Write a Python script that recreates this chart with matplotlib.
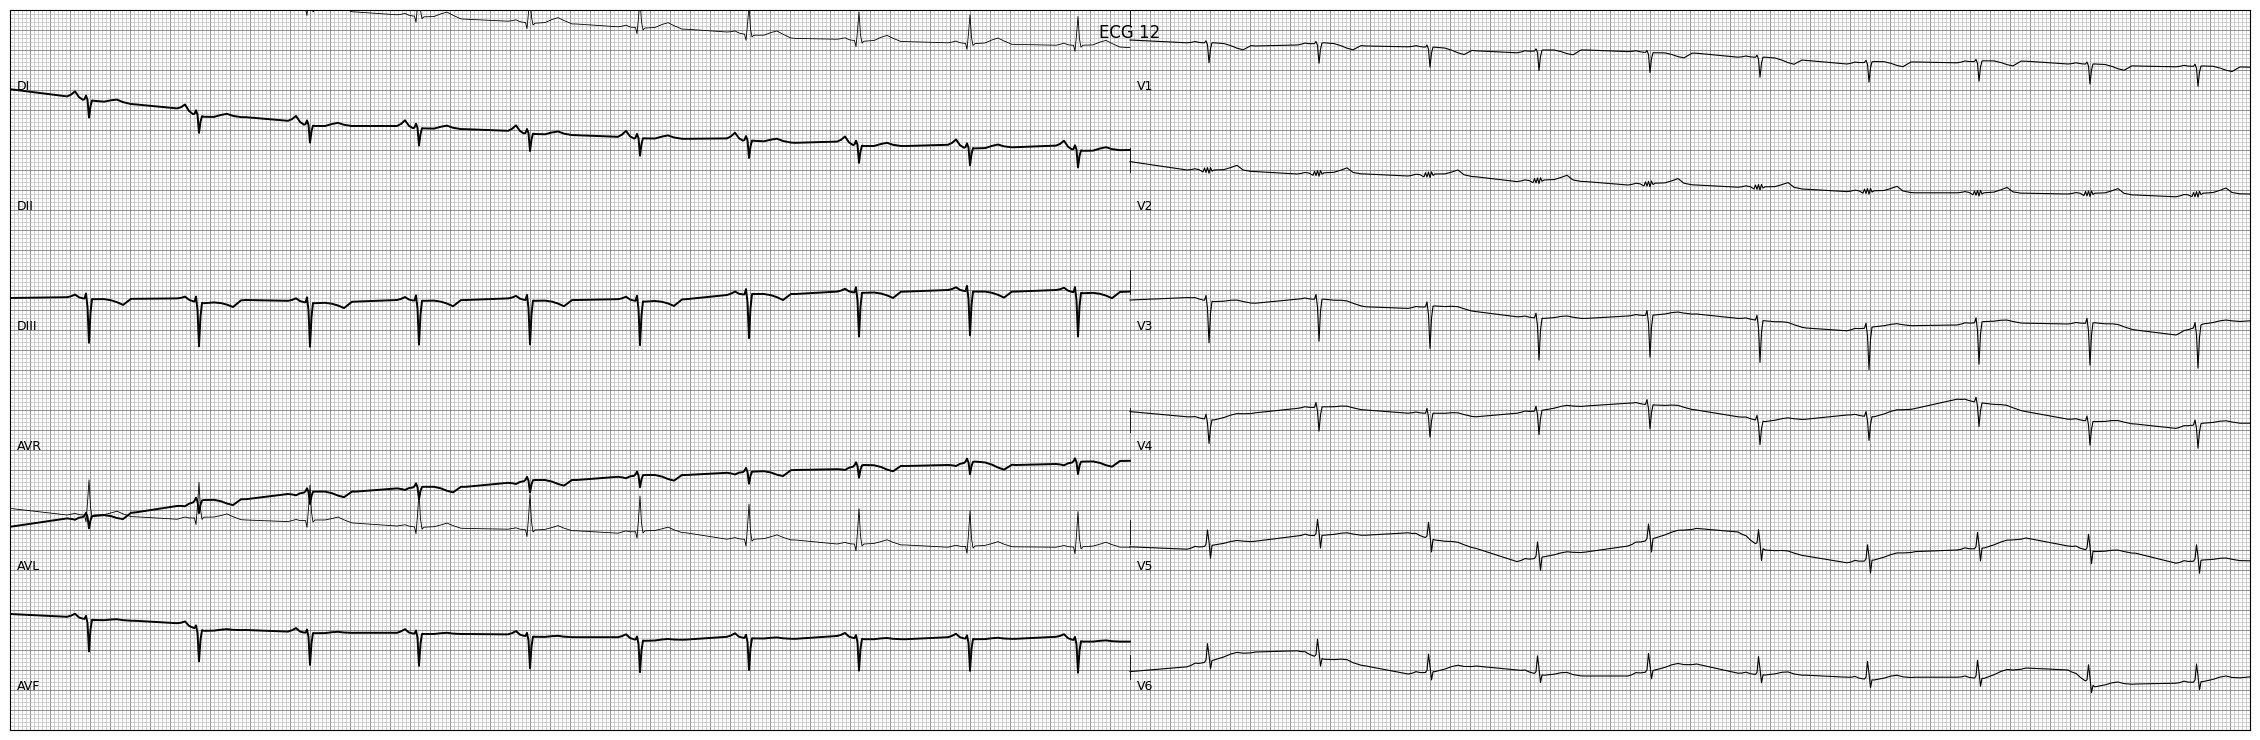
import numpy as np
import matplotlib
matplotlib.use('Agg')
import matplotlib.pyplot as plt
from matplotlib.ticker import AutoMinorLocator

TITLE = 'ECG 12'
LEAD_NAMES = ['DI', 'DII', 'DIII', 'AVR', 'AVL', 'AVF',
              'V1', 'V2', 'V3', 'V4', 'V5', 'V6']
SECS = 11.2

# QRS times (s) shared by all leads
BEAT_T = [0.79, 1.89, 3.00, 4.09, 5.20, 6.30, 7.39, 8.49, 9.60, 10.68]

# beat shape sample offsets (s, relative to QRS time)
SHAPE_T = [-0.22, -0.18, -0.14, -0.10, -0.06, -0.045, -0.03, -0.015, 0.0,
           0.015, 0.03, 0.05, 0.15, 0.22, 0.28, 0.34, 0.42]

# baseline levels (mV): start, then per beat (pre, post, mid-to-next), end
DI_BASE = [-0.48, -0.66, -0.77, -0.86, -0.96, -1.17, -1.18, -1.27, -1.40, -1.40,
           -1.40, -1.46, -1.48, -1.52, -1.60, -1.63, -1.67, -1.71, -1.72, -1.71,
           -1.77, -1.82, -1.79, -1.90, -1.90, -1.87, -1.96, -1.93, -1.89, -2.02, -2.00]
DII_BASE = [4.9, 4.85, 4.8, 4.78, 4.72, 4.7, 4.62, 4.55, 4.5, 4.45,
            4.38, 4.33, 4.27, 4.22, 4.17, 4.15, 4.08, 4.05, 4.02, 3.95,
            3.87, 3.79, 3.77, 3.72, 3.71, 3.68, 3.66, 3.64, 3.62, 3.62, 3.56]
DIII_BASE = [0.3, 0.32, 0.27, 0.28, 0.29, 0.17, 0.25, 0.23, 0.17, 0.21,
             0.25, 0.23, 0.25, 0.29, 0.23, 0.25, 0.27, 0.21, 0.27, 0.375,
             0.40, 0.40, 0.46, 0.43, 0.46, 0.50, 0.46, 0.46, 0.50, 0.42, 0.46]
AVR_BASE = [-2.42, -2.21, -2.15, -2.06, -1.9, -1.75, -1.73, -1.6, -1.54, -1.54,
            -1.46, -1.42, -1.42, -1.32, -1.25, -1.25, -1.17, -1.125, -1.125, -1.07,
            -1.04, -1.0, -0.98, -0.875, -0.9, -0.875, -0.79, -0.875, -0.85, -0.79, -0.77]
AVL_BASE = [1.04, 0.875, 0.875, 0.83, 0.77, 0.82, 0.75, 0.71, 0.75, 0.67,
            0.6, 0.57, 0.54, 0.52, 0.5, 0.48, 0.42, 0.48, 0.43, 0.27,
            0.27, 0.25, 0.15, 0.15, 0.125, 0.07, 0.1, 0.08, 0.07, 0.08, 0.07]
AVF_BASE = [1.4, 1.33, 1.25, 1.23, 1.17, 0.98, 1.0, 0.96, 0.92, 0.93,
            0.93, 0.9, 0.9, 0.89, 0.83, 0.82, 0.82, 0.73, 0.76, 0.83,
            0.79, 0.78, 0.85, 0.77, 0.77, 0.82, 0.77, 0.78, 0.83, 0.71, 0.71]
V1_BASE = [0.75, 0.68, 0.68, 0.6, 0.625, 0.68, 0.6, 0.58, 0.57, 0.48,
           0.43, 0.5, 0.5, 0.46, 0.43, 0.42, 0.32, 0.32, 0.24, 0.15,
           0.21, 0.2, 0.18, 0.23, 0.22, 0.15, 0.15, 0.1, 0.08, 0.1, 0.07]
V2_BASE = [0.71, 0.5, 0.5, 0.46, 0.4, 0.43, 0.4, 0.35, 0.4, 0.33,
           0.21, 0.25, 0.21, 0.125, 0.17, 0.125, 0.07, 0.08, 0.02, -0.04,
           -0.02, -0.07, -0.07, -0.07, -0.08, -0.1, -0.08, -0.125, -0.17, -0.08, -0.1]
V3_BASE = [0.25, 0.31, 0.21, 0.17, 0.27, 0.27, 0.08, 0.04, 0.1, -0.04,
           -0.17, -0.21, -0.21, -0.15, -0.125, -0.1, -0.21, -0.27, -0.45, -0.52,
           -0.42, -0.39, -0.375, -0.29, -0.33, -0.35, -0.32, -0.5, -0.625, -0.35, -0.27]
V4_BASE = [0.46, 0.33, 0.25, 0.43, 0.54, 0.58, 0.5, 0.42, 0.42, 0.33,
           0.42, 0.5, 0.6, 0.67, 0.625, 0.5, 0.33, 0.21, 0.27, 0.375,
           0.33, 0.54, 0.77, 0.67, 0.46, 0.27, 0.21, 0.15, 0.04, 0.17, 0.17]
V5_BASE = [0.08, 0.02, 0.125, 0.22, 0.35, 0.37, 0.37, 0.43, 0.25, 0.04,
           -0.29, -0.17, -0.05, 0.1, 0.3, 0.54, 0.45, 0.0, -0.15, -0.32,
           -0.25, -0.04, 0.0, 0.05, 0.3, 0.1, -0.04, -0.08, -0.33, -0.25, -0.27]
V6_BASE = [-0.04, 0.08, 0.25, 0.45, 0.48, 0.27, 0.1, -0.1, -0.04, 0.1,
           0.0, -0.13, -0.15, -0.15, 0.0, 0.15, -0.08, -0.125, -0.13, -0.18,
           -0.25, -0.18, -0.18, -0.21, 0.05, 0.0, -0.42, -0.35, -0.33, -0.29, -0.17]

# beat shapes (mV above baseline) at SHAPE_T offsets
DI_SHAPE = [0, 0.06, 0.16, 0.03, -0.02, 0.0, 0.10, 0.0, -0.44, -0.15, 0.0, 0, 0, 0.05, 0.08, 0.03, 0]
DII_SHAPE = [0, 0.02, 0.05, 0.01, 0, 0, -0.15, 0.25, 0.72, 0.15, -0.05, 0, 0.02, 0.1, 0.15, 0.08, 0]
DIII_SHAPE = [0, 0.03, 0.08, 0.02, 0, 0, 0.13, -0.2, -1.1, -0.35, 0.0, 0, 0, -0.03, -0.08, -0.15, 0]
AVR_SHAPE = [0, -0.02, -0.05, -0.01, 0, 0.03, 0.1, 0.0, -0.3, -0.1, 0.0, 0, 0, -0.04, -0.1, -0.14, 0]
AVL_SHAPE = [0, 0.02, 0.04, 0.01, 0, 0, -0.17, 0.3, 0.88, 0.2, -0.05, 0, 0.02, 0.07, 0.12, 0.06, 0]
AVF_SHAPE = [0, 0.04, 0.1, 0.02, 0, 0, 0.08, -0.1, -0.8, -0.25, 0, 0, 0, 0.02, 0.03, 0.01, 0]
V1_SHAPE = [0, 0.01, 0.03, 0.01, 0, 0, 0.05, -0.05, -0.5, -0.15, 0, 0, 0, -0.04, -0.09, -0.12, 0]
V2_SHAPE = [0, 0.01, 0.03, 0.01, -0.05, 0.05, -0.06, 0.06, -0.08, 0.06, -0.03, 0, 0.02, 0.08, 0.14, 0.03, 0]
V3_SHAPE = [0, 0.01, 0.03, 0.01, 0, 0, 0.12, -0.2, -1.05, -0.3, 0, 0, 0.02, 0.05, 0.06, 0.03, 0]
V4_SHAPE = [0, 0.01, 0.03, 0.01, 0, 0, 0.12, -0.1, -0.6, -0.2, 0, 0, 0.02, 0.05, 0.06, 0.03, 0]
V5_SHAPE = [0, 0.01, 0.04, 0.01, 0, 0, 0.05, 0.4, 0.1, -0.32, 0.0, 0, 0.02, 0.05, 0.06, 0.03, 0]
V6_SHAPE = [0, 0.01, 0.04, 0.01, 0, 0, 0.05, 0.45, 0.15, -0.2, 0.0, 0, 0.03, 0.07, 0.08, 0.03, 0]

BASES = [DI_BASE, DII_BASE, DIII_BASE, AVR_BASE, AVL_BASE, AVF_BASE,
         V1_BASE, V2_BASE, V3_BASE, V4_BASE, V5_BASE, V6_BASE]
SHAPES = [DI_SHAPE, DII_SHAPE, DIII_SHAPE, AVR_SHAPE, AVL_SHAPE, AVF_SHAPE,
          V1_SHAPE, V2_SHAPE, V3_SHAPE, V4_SHAPE, V5_SHAPE, V6_SHAPE]
LINE_W = [1.4, 0.6, 1.4, 1.4, 0.6, 1.4, 0.8, 0.8, 0.8, 0.8, 0.8, 0.8]


def knot_times():
    ts = [0.0]
    for i, tb in enumerate(BEAT_T):
        ts += [tb - 0.22, tb + 0.05]
        if i < len(BEAT_T) - 1:
            ts.append(((tb + 0.05) + (BEAT_T[i + 1] - 0.22)) / 2)
    ts.append(SECS)
    return np.array(ts)


def build_trace(base, shape):
    kt = knot_times()
    kv = np.array(base, dtype=float)
    pts = dict(zip(np.round(kt, 4), kv))
    st = np.array(SHAPE_T)
    sv = np.array(shape, dtype=float)
    for tb in BEAT_T:
        tt = tb + st
        vv = np.interp(tt, kt, kv) + sv
        for a, b in zip(np.round(tt, 4), vv):
            pts[a] = b
    t = np.array(sorted(pts))
    v = np.array([pts[k] for k in t])
    return t, v


traces = [build_trace(b, s) for b, s in zip(BASES, SHAPES)]

columns = 2
rows = 6
row_height = 6
fig = plt.figure(figsize=(22.6, 7.4), dpi=100)
ax = fig.add_axes([10 / 2260, 10 / 740, 2240 / 2260, 720 / 740])
fig.text(0.5, 1 - 24.4 / 740, TITLE, ha='center', va='top', fontsize=12)

x_min, x_max = 0, columns * SECS
y_min = row_height / 4 - (rows / 2) * row_height
y_max = row_height / 4

color_major = (0.4, 0.4, 0.4)
color_minor = (0.75, 0.75, 0.75)
color_line = (0, 0, 0)

ax.set_xticks(np.arange(x_min, x_max, 0.2))
ax.set_yticks(np.arange(y_min, y_max, 0.5))
ax.minorticks_on()
ax.xaxis.set_minor_locator(AutoMinorLocator(5))
ax.grid(which='major', linestyle='-', linewidth=0.5, color=color_major)
ax.grid(which='minor', linestyle='-', linewidth=0.5, color=color_minor)
ax.tick_params(which='both', length=0, labelbottom=False, labelleft=False)
ax.set_ylim(y_min, y_max)
ax.set_xlim(x_min, x_max)
for sp in ax.spines.values():
    sp.set_linewidth(0.8)

for c in range(columns):
    for i in range(rows):
        idx = c * rows + i
        y_offset = -(row_height / 2) * i
        x_offset = 0
        if c > 0:
            x_offset = SECS * c
            prev = idx - 1
            first = BASES[prev][0]
            ax.plot([x_offset, x_offset], [first + y_offset - 0.3, first + y_offset + 0.3],
                    linewidth=0.6, color=color_line)
        ax.text(x_offset + 0.07, y_offset - 0.5, LEAD_NAMES[idx], fontsize=9)
        t, v = traces[idx]
        ax.plot(t + x_offset, v + y_offset, linewidth=LINE_W[idx], color=color_line,
                solid_joinstyle='round')

fig.savefig('out.png', dpi=100)
